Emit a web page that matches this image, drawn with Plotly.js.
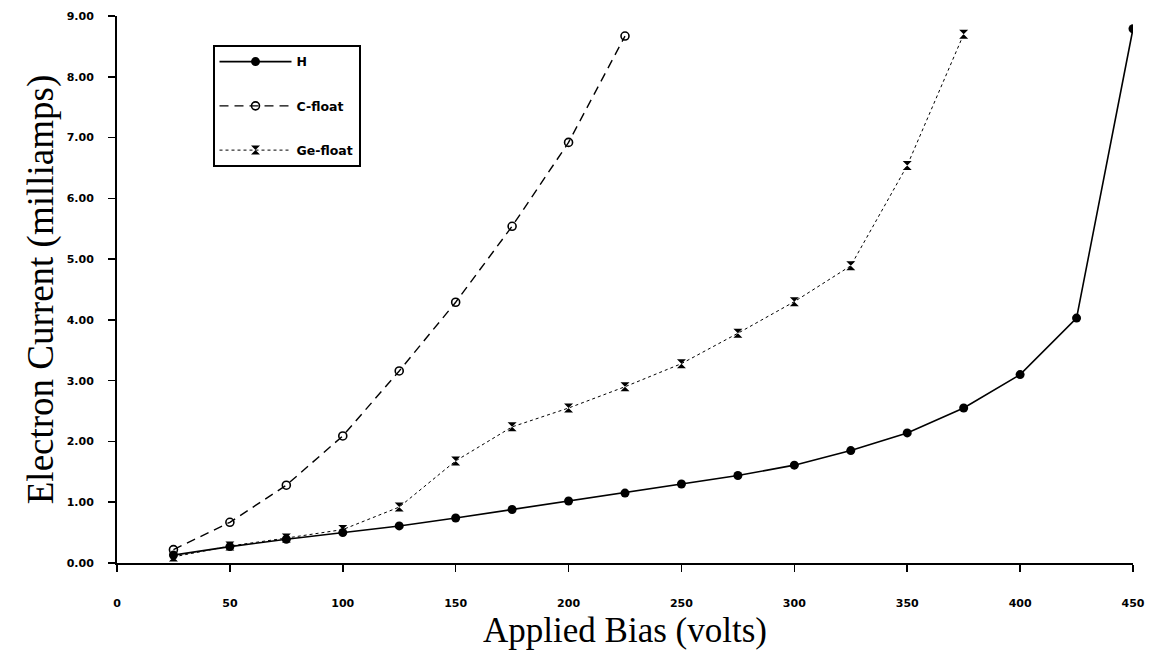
<!DOCTYPE html>
<html>
<head>
<meta charset="utf-8">
<script src="https://cdn.plot.ly/plotly-3.0.1.min.js"></script>
<style>html,body{margin:0;padding:0;background:#fff;}#chart{width:1151px;height:662px;}</style>
</head>
<body>
<div id="chart"></div>
<script>
const biasH = [25, 50, 75, 100, 125, 150, 175, 200, 225, 250, 275, 300, 325, 350, 375, 400, 425, 450];
const currentH = [0.13, 0.27, 0.39, 0.50, 0.61, 0.74, 0.88, 1.02, 1.15, 1.30, 1.44, 1.61, 1.85, 2.14, 2.55, 3.10, 4.03, 8.79];
const biasC = [25, 50, 75, 100, 125, 150, 175, 200, 225];
const currentC = [0.22, 0.67, 1.28, 2.09, 3.16, 4.29, 5.54, 6.92, 8.67];
const biasGe = [25, 50, 75, 100, 125, 150, 175, 200, 225, 250, 275, 300, 325, 350, 375];
const currentGe = [0.10, 0.28, 0.41, 0.55, 0.92, 1.68, 2.24, 2.55, 2.90, 3.28, 3.78, 4.30, 4.89, 6.54, 8.70];
const xTicks = [0, 50, 100, 150, 200, 250, 300, 350, 400, 450];
const yTicks = [0, 1, 2, 3, 4, 5, 6, 7, 8, 9];

const traces = [
  {x: biasH, y: currentH, name: 'H', mode: 'lines+markers', legendgroup: 'a',
   line: {color: '#000', width: 1.6, dash: 'solid'},
   marker: {symbol: 'circle', size: 9, color: '#000'}},
  {x: biasC, y: currentC, name: 'C-float', mode: 'lines+markers', legendgroup: 'b',
   line: {color: '#000', width: 1.4, dash: '9px,6px'},
   marker: {symbol: 'circle-open', size: 8, color: '#000', line: {width: 1.6, color: '#000'}}},
  {x: biasGe, y: currentGe, name: 'Ge-float', mode: 'lines+markers', legendgroup: 'c',
   line: {color: '#000', width: 1, dash: 'dot'},
   marker: {symbol: 'hourglass', size: 9, color: '#000'}}
];

const tickFont = {family: 'DejaVu Sans, Arial, sans-serif', size: 11, color: '#000', weight: 'bold'};

const layout = {
  width: 1151, height: 662,
  margin: {l: 117, r: 18, t: 16, b: 99},
  paper_bgcolor: '#fff', plot_bgcolor: '#fff',
  showlegend: true,
  legend: {x: 0.094, y: 0.947, xanchor: 'left', yanchor: 'top',
    bordercolor: '#000', borderwidth: 2, bgcolor: '#fff',
    font: {family: 'DejaVu Sans, Arial, sans-serif', size: 12.5, color: '#000', weight: 'bold'},
    itemwidth: 72, tracegroupgap: 25},
  xaxis: {range: [0, 450], tickvals: xTicks, ticktext: xTicks.map(String),
    showgrid: false, zeroline: false, showline: true, linecolor: '#000', linewidth: 2,
    ticks: 'outside', ticklen: 7, tickwidth: 1.5, tickcolor: '#000',
    ticklabelstandoff: 22, tickfont: tickFont,
    title: {text: 'Applied Bias (volts)', standoff: 8,
      font: {family: 'Liberation Serif, Times New Roman, serif', size: 35, color: '#000'}}},
  yaxis: {range: [0, 9], tickvals: yTicks, tickformat: '.2f',
    showgrid: false, zeroline: false, showline: true, linecolor: '#000', linewidth: 2,
    ticks: 'outside', ticklen: 7, tickwidth: 1.5, tickcolor: '#000',
    ticklabelstandoff: 12, tickfont: tickFont,
    title: {text: 'Electron Current (milliamps)', standoff: 2,
      font: {family: 'Liberation Serif, Times New Roman, serif', size: 37, color: '#000'}}}
};

Plotly.newPlot('chart', traces, layout, {displayModeBar: false, staticPlot: true});
</script>
</body>
</html>
